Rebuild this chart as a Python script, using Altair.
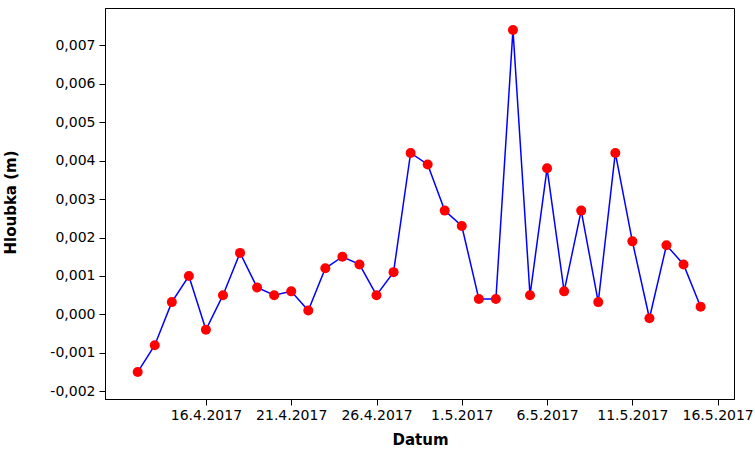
import altair as alt
import pandas as pd

# Daily depth readings, 12.4.2017 - 15.5.2017
dates = pd.date_range("2017-04-12", "2017-05-15", freq="D").strftime("%Y-%m-%d").tolist()
depth_m = [
    -0.0015, -0.0008, 0.00032, 0.0010, -0.0004, 0.0005, 0.0016, 0.0007,
    0.0005, 0.0006, 0.0001, 0.0012, 0.0015, 0.0013, 0.0005, 0.0011,
    0.0042, 0.0039, 0.0027, 0.0023, 0.0004, 0.0004, 0.0074, 0.0005,
    0.0038, 0.0006, 0.0027, 0.00032, 0.0042, 0.0019, -0.0001, 0.0018,
    0.0013, 0.0002,
]

x_tick_days = [(4, 16), (4, 21), (4, 26), (5, 1), (5, 6), (5, 11), (5, 16)]
y_ticks = [-0.002, -0.001, 0.0, 0.001, 0.002, 0.003, 0.004, 0.005, 0.006, 0.007]

df = pd.DataFrame({"Datum": dates, "Hloubka": depth_m})

FONT = "DejaVu Sans"

x_enc = alt.X(
    "Datum:T",
    title="Datum",
    scale=alt.Scale(
        type="utc",
        domain=[
            alt.DateTime(year=2017, month=4, date=10, hours=2, utc=True),
            alt.DateTime(year=2017, month=5, date=16, hours=23, utc=True),
        ],
    ),
    axis=alt.Axis(
        values=[alt.DateTime(year=2017, month=m, date=d, utc=True) for m, d in x_tick_days],
        format="%-d.%-m.%Y",
        grid=False,
        tickSize=6,
        labelPadding=3,
        titleX=315,
        titleY=45,
        titleBaseline="alphabetic",
    ),
)

y_enc = alt.Y(
    "Hloubka:Q",
    title="Hloubka (m)",
    scale=alt.Scale(domain=[-0.0022, 0.00797], nice=False, zero=False),
    axis=alt.Axis(
        values=y_ticks,
        labelExpr="(datum.value < -1e-9 ? '-' : '') + replace(format(abs(datum.value), '.3f'), '.', ',')",
        grid=False,
        tickSize=6,
        labelPadding=4,
        titleX=-87,
        titleY=194,
    ),
)

base = alt.Chart(df).encode(x=x_enc, y=y_enc)

line = base.mark_line(color="#0000FF", strokeWidth=1.5)
points = base.mark_point(filled=True, color="#FF0000", size=100, opacity=1)

chart = (
    (line + points)
    .properties(
        width=629,
        height=391,
        autosize=alt.AutoSizeParams(type="none"),
        padding={"left": 105, "top": 8, "right": 21, "bottom": 53},
    )
    .configure_view(stroke="#000000", strokeWidth=1)
    .configure_axis(
        domainColor="#000000",
        tickColor="#000000",
        labelColor="#000000",
        titleColor="#000000",
        labelFont=FONT,
        titleFont=FONT,
        labelFontSize=14,
        titleFontSize=15,
        titleFontWeight="bold",
    )
)

chart.save("out.html", embed_options={"renderer": "svg", "actions": False})
